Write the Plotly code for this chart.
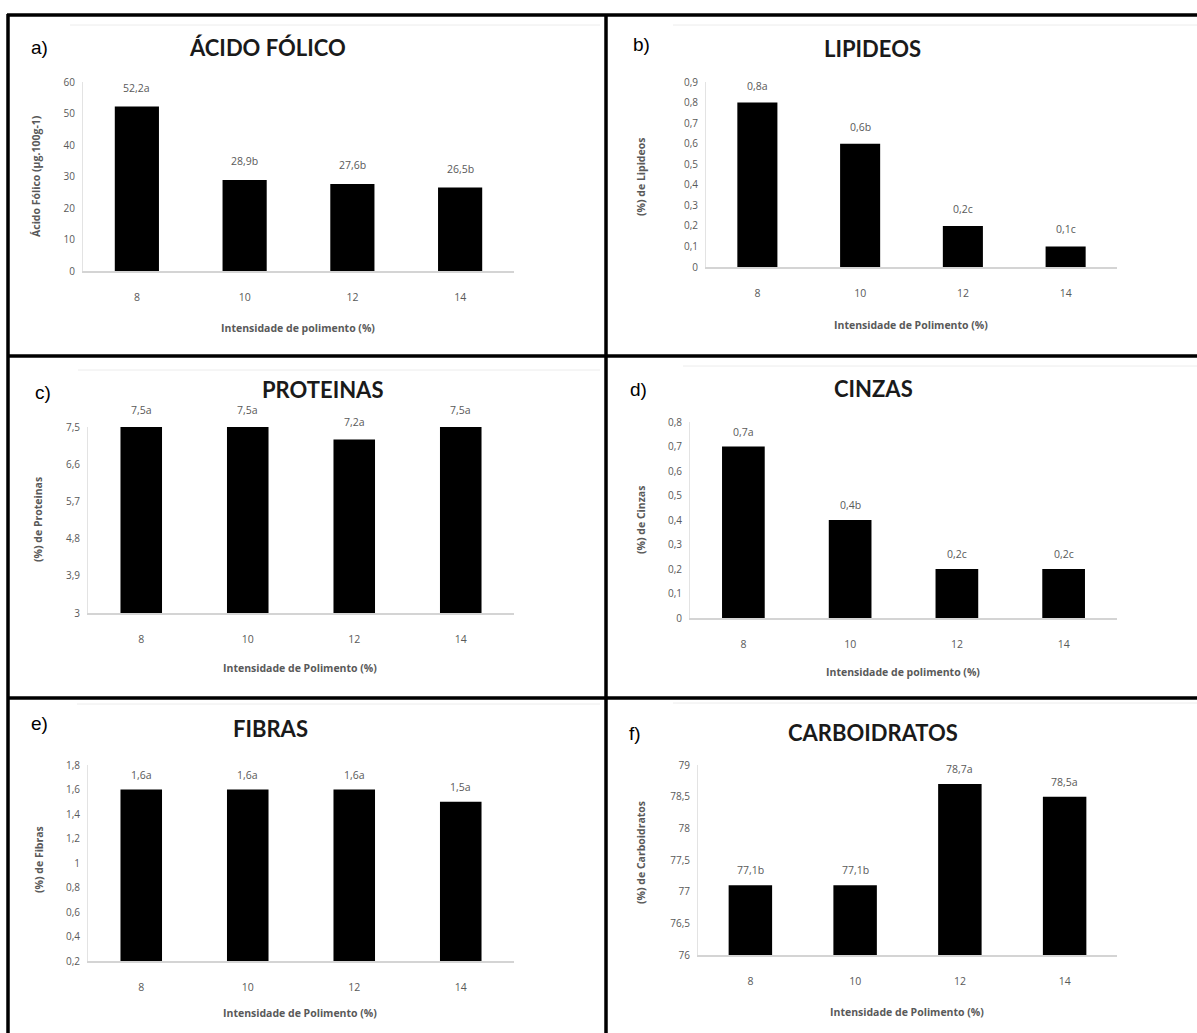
import plotly.graph_objects as go

W, H = 1197, 1033

# ---------------- data ----------------
categories = ["8", "10", "12", "14"]

acido_folico = [52.2, 28.9, 27.6, 26.5]
acido_folico_labels = ["52,2a", "28,9b", "27,6b", "26,5b"]

lipideos = [0.8, 0.6, 0.2, 0.1]
lipideos_labels = ["0,8a", "0,6b", "0,2c", "0,1c"]

proteinas = [7.5, 7.5, 7.2, 7.5]
proteinas_labels = ["7,5a", "7,5a", "7,2a", "7,5a"]

cinzas = [0.7, 0.4, 0.2, 0.2]
cinzas_labels = ["0,7a", "0,4b", "0,2c", "0,2c"]

fibras = [1.6, 1.6, 1.6, 1.5]
fibras_labels = ["1,6a", "1,6a", "1,6a", "1,5a"]

carboidratos = [77.1, 77.1, 78.7, 78.5]
carboidratos_labels = ["77,1b", "77,1b", "78,7a", "78,5a"]

panel_letters = ["a)", "b)", "c)", "d)", "e)", "f)"]
titles = ["ÁCIDO FÓLICO", "LIPIDEOS", "PROTEINAS", "CINZAS", "FIBRAS", "CARBOIDRATOS"]
y_titles = ["Ácido Fólico (µg.100g-1)", "(%) de Lipideos", "(%) de Proteinas",
            "(%) de Cinzas", "(%) de Fibras", "(%) de Carboidratos"]
x_titles = ["Intensidade de polimento (%)", "Intensidade de Polimento (%)",
            "Intensidade de Polimento (%)", "Intensidade de polimento (%)",
            "Intensidade de Polimento (%)", "Intensidade de Polimento (%)"]

series = [acido_folico, lipideos, proteinas, cinzas, fibras, carboidratos]
labels = [acido_folico_labels, lipideos_labels, proteinas_labels,
          cinzas_labels, fibras_labels, carboidratos_labels]

# ---------------- layout geometry (pixels) ----------------
geom = [
    dict(l=83, r=514, t=82, b=271, rng=[0, 60], dt=10, t0=0, bw=0.41, ls=19,
         title=(267, 47), letter=(39, 47), ytit=(36, 176), xtit=(298, 328)),
    dict(l=706, r=1117, t=82, b=267, rng=[0, 0.9], dt=0.1, t0=0, bw=0.39, ls=17,
         title=(872, 48), letter=(641, 45), ytit=(641, 177), xtit=(911, 325)),
    dict(l=88, r=514, t=427, b=613, rng=[3, 7.5], dt=0.9, t0=3, bw=0.39, ls=17,
         title=(322, 390), letter=(43, 393), ytit=(38, 520), xtit=(300, 668)),
    dict(l=690, r=1117, t=422, b=618, rng=[0, 0.8], dt=0.1, t0=0, bw=0.40, ls=15,
         title=(873, 388), letter=(638, 390), ytit=(641, 520), xtit=(903, 672)),
    dict(l=88, r=514, t=765, b=961, rng=[0.2, 1.8], dt=0.2, t0=0.2, bw=0.39, ls=15,
         title=(270, 728), letter=(39, 723), ytit=(39, 860), xtit=(300, 1013)),
    dict(l=698, r=1117, t=765, b=955, rng=[76, 79], dt=0.5, t0=76, bw=0.415, ls=15,
         title=(873, 732), letter=(635, 733), ytit=(641, 853), xtit=(907, 1012)),
]

def px(x):
    return x / W

def py(y):
    return 1 - y / H

TXT = "#595959"
tick_font = dict(family="Open Sans", size=10, color=TXT)

fig = go.Figure()
annotations = []
shapes = []
layout_axes = {}

for i, (vals, labs, g) in enumerate(zip(series, labels, geom)):
    n = i + 1
    xa = f"x{n}"
    ya = f"y{n}"
    fig.add_trace(go.Bar(
        x=categories, y=vals, width=g["bw"],
        marker=dict(color="black", line=dict(width=0)),
        xaxis=xa, yaxis=ya, showlegend=False, hoverinfo="x+y",
    ))
    layout_axes[f"xaxis{n}"] = dict(
        domain=[px(g["l"]), px(g["r"])], anchor=ya, type="category",
        categoryorder="array", categoryarray=categories, range=[-0.5, 3.5],
        showgrid=False, zeroline=False, showline=True, linecolor="#d4d4d4",
        linewidth=1.5, ticks="", tickfont=dict(family="Open Sans", size=10.5, color=TXT),
        ticklabelstandoff=16, fixedrange=True, automargin=False,
    )
    layout_axes[f"yaxis{n}"] = dict(
        domain=[py(g["b"]), py(g["t"])], anchor=xa, range=g["rng"],
        dtick=g["dt"], tick0=g["t0"], showgrid=False, zeroline=False,
        showline=True, linecolor="#e3e3e3", linewidth=1, ticks="",
        tickfont=tick_font, ticklabelstandoff=5, fixedrange=True, automargin=False,
    )
    for j, (v, t) in enumerate(zip(vals, labs)):
        annotations.append(dict(
            x=j, y=v, xref=xa, yref=ya, text=t, showarrow=False,
            yanchor="middle", yshift=g["ls"],
            font=dict(family="Open Sans", size=10.5, color=TXT),
        ))
    tx, ty = g["title"]
    annotations.append(dict(
        x=px(tx), y=py(ty), xref="paper", yref="paper", text=f"<b>{titles[i]}</b>",
        showarrow=False, xanchor="center", yanchor="middle",
        font=dict(family="Lato", size=22, color="#1a1a1a"),
    ))
    lx, ly = g["letter"]
    annotations.append(dict(
        x=px(lx), y=py(ly), xref="paper", yref="paper", text=panel_letters[i],
        showarrow=False, xanchor="center", yanchor="middle",
        font=dict(family="Liberation Sans", size=19, color="black"),
    ))
    yx, yy = g["ytit"]
    annotations.append(dict(
        x=px(yx), y=py(yy), xref="paper", yref="paper", text=f"<b>{y_titles[i]}</b>",
        showarrow=False, xanchor="center", yanchor="middle", textangle=-90,
        font=dict(family="Open Sans", size=10.5, color=TXT),
    ))
    xx, xy = g["xtit"]
    annotations.append(dict(
        x=px(xx), y=py(xy), xref="paper", yref="paper", text=f"<b>{x_titles[i]}</b>",
        showarrow=False, xanchor="center", yanchor="middle",
        font=dict(family="Open Sans", size=10.5, color=TXT),
    ))

def hline(y, x0, x1, w=3.5, c="black"):
    shapes.append(dict(type="line", xref="paper", yref="paper",
                       x0=px(x0), x1=px(x1), y0=py(y), y1=py(y),
                       line=dict(color=c, width=w)))

def vline(x, y0, y1, w=3.5, c="black"):
    shapes.append(dict(type="line", xref="paper", yref="paper",
                       x0=px(x), x1=px(x), y0=py(y0), y1=py(y1),
                       line=dict(color=c, width=w)))

for (x0, y0) in [(70, 25), (673, 25), (78, 370), (683, 366), (77, 704), (673, 703)]:
    hline(y0, x0, 600 if x0 < 600 else 1197, w=1, c="#ececec")

hline(15, 7, W)
hline(356, 7, W)
hline(698, 7, W)
vline(8, 14, H)
vline(606, 14, H)

fig.update_layout(
    width=W, height=H, margin=dict(l=0, r=0, t=0, b=0, pad=0, autoexpand=False),
    paper_bgcolor="white", plot_bgcolor="white",
    separators=",.", annotations=annotations, shapes=shapes,
    showlegend=False, **layout_axes,
)

fig.write_html("out.html", config={"displayModeBar": False},
               post_script="document.body.style.margin='0';document.body.style.overflow='hidden';")
